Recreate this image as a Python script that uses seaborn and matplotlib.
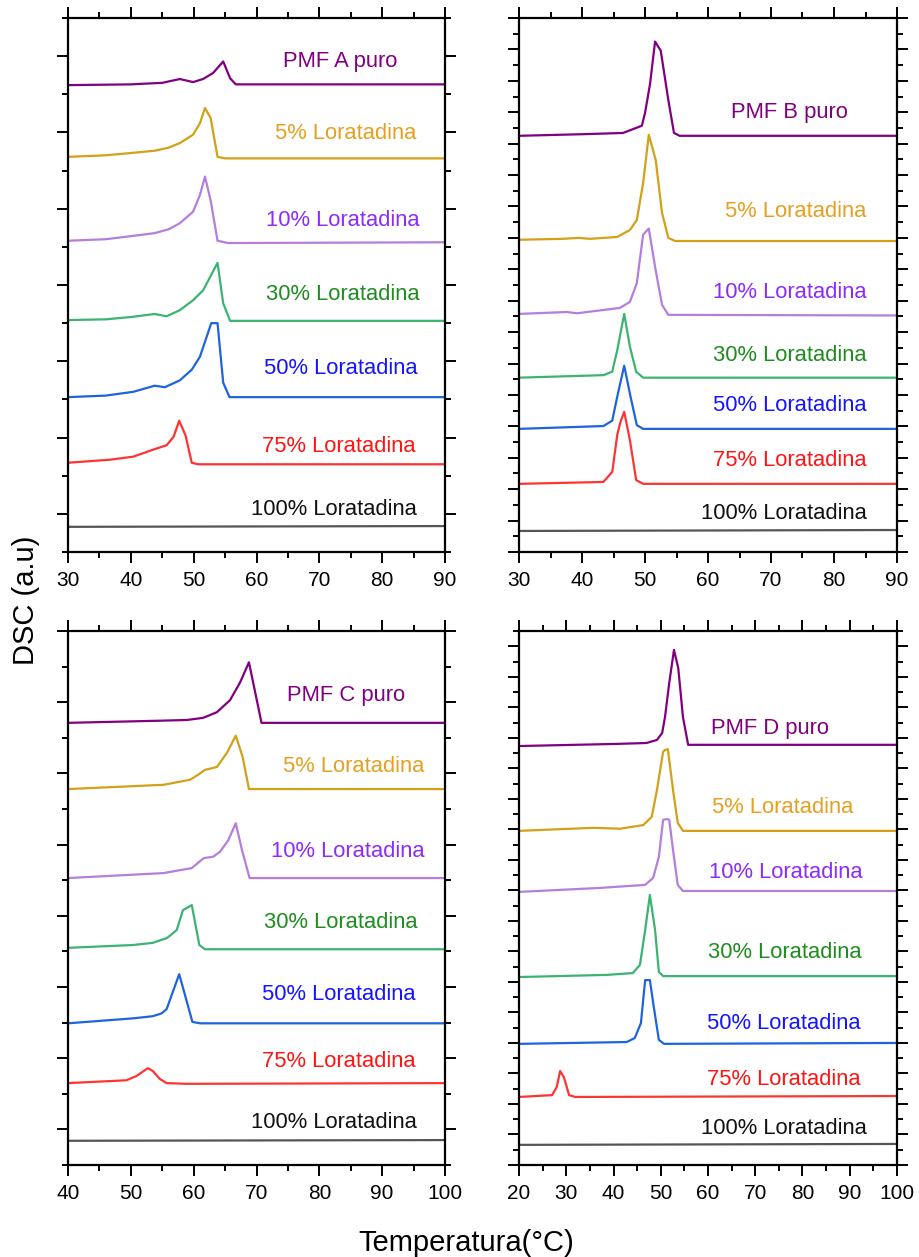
import matplotlib
matplotlib.use("Agg")
import matplotlib.pyplot as plt
import seaborn as sns
import pandas as pd
from matplotlib.ticker import MultipleLocator, FixedLocator

sns.set_theme(style="white")
plt.rcParams['font.family'] = ['Liberation Sans', 'DejaVu Sans']
plt.rcParams['text.color'] = 'black'
plt.rcParams['xtick.color'] = 'black'
plt.rcParams['ytick.color'] = 'black'
plt.rcParams['axes.labelcolor'] = 'black'

# ---------------- data ----------------
labels_A = ["PMF A puro", "5% Loratadina", "10% Loratadina", "30% Loratadina",
            "50% Loratadina", "75% Loratadina", "100% Loratadina"]
labels_B = ["PMF B puro"] + labels_A[1:]
labels_C = ["PMF C puro"] + labels_A[1:]
labels_D = ["PMF D puro"] + labels_A[1:]

# Panel A
A0_T = [30, 40, 45, 47.8, 49.9, 51.5, 53.1, 54.7, 55.8, 56.7, 90]
A0_y = [6.12, 6.13, 6.15, 6.20, 6.16, 6.20, 6.28, 6.43, 6.21, 6.13, 6.13]
A1_T = [30, 36, 40, 43.8, 46, 47.8, 49.9, 51.0, 51.8, 52.7, 53.8, 55, 90]
A1_y = [5.18, 5.20, 5.23, 5.26, 5.30, 5.36, 5.47, 5.62, 5.82, 5.69, 5.18, 5.16, 5.16]
A2_T = [30, 36, 40, 43.8, 46, 47.8, 49.9, 51.0, 51.8, 52.7, 53.8, 55.5, 90]
A2_y = [4.08, 4.10, 4.14, 4.18, 4.23, 4.31, 4.46, 4.68, 4.92, 4.61, 4.08, 4.05, 4.06]
A3_T = [30, 36, 40, 43.8, 45.7, 47.8, 49.9, 51.5, 53.8, 54.7, 55.8, 90]
A3_y = [3.04, 3.05, 3.08, 3.12, 3.09, 3.17, 3.30, 3.43, 3.79, 3.26, 3.03, 3.03]
A4_T = [30, 36, 40.4, 43.8, 45.4, 47.8, 49.7, 51.0, 52.8, 53.8, 54.7, 55.7, 90]
A4_y = [2.03, 2.05, 2.10, 2.18, 2.16, 2.25, 2.39, 2.56, 3.00, 3.00, 2.22, 2.03, 2.03]
A5_T = [30, 36.7, 40.4, 43.5, 45.7, 46.8, 47.7, 48.7, 49.7, 50.7, 90]
A5_y = [1.17, 1.21, 1.25, 1.34, 1.40, 1.51, 1.72, 1.53, 1.17, 1.15, 1.15]
A6_T = [30, 90]
A6_y = [0.33, 0.34]

# Panel B
B0_T = [30, 40, 46.5, 49.5, 50.0, 50.8, 51.6, 52.5, 53.7, 54.6, 55.5, 90]
B0_y = [13.25, 13.30, 13.34, 13.57, 13.97, 14.9, 16.25, 15.96, 14.39, 13.34, 13.25, 13.25]
B1_T = [30, 37, 39.4, 41.3, 45.6, 47.6, 48.7, 49.7, 50.6, 51.7, 52.7, 53.7, 54.8, 90]
B1_y = [9.94, 9.97, 10.0, 9.97, 10.03, 10.25, 10.57, 11.74, 13.28, 12.48, 10.8, 10.0, 9.9, 9.9]
B2_T = [30, 37.6, 39.2, 46.0, 47.6, 48.7, 49.7, 50.6, 51.6, 52.7, 53.7, 90]
B2_y = [7.58, 7.64, 7.60, 7.77, 7.96, 8.56, 10.1, 10.3, 9.08, 7.87, 7.55, 7.53]
B3_T = [30, 43.4, 44.8, 45.6, 46.7, 47.6, 48.6, 49.7, 90]
B3_y = [5.55, 5.63, 5.74, 6.43, 7.58, 6.54, 5.74, 5.55, 5.55]
B4_T = [30, 43.4, 44.8, 45.6, 46.7, 47.7, 48.7, 49.7, 90]
B4_y = [3.92, 4.01, 4.18, 4.95, 5.93, 4.95, 4.04, 3.92, 3.92]
B5_T = [30, 43.4, 44.8, 45.6, 46.1, 46.7, 47.6, 48.6, 49.7, 90]
B5_y = [2.17, 2.23, 2.55, 3.73, 4.14, 4.46, 3.57, 2.29, 2.17, 2.17]
B6_T = [30, 90]
B6_y = [0.67, 0.70]

# Panel C
C0_T = [40, 54.6, 58.9, 61.5, 63.7, 65.8, 67.4, 68.8, 70.8, 100]
C0_y = [6.21, 6.24, 6.25, 6.28, 6.36, 6.53, 6.78, 7.06, 6.21, 6.21]
C1_T = [40, 55.2, 59.4, 60.7, 61.8, 63.7, 65.3, 66.7, 67.8, 68.8, 100]
C1_y = [5.28, 5.34, 5.41, 5.48, 5.55, 5.59, 5.79, 6.03, 5.73, 5.28, 5.28]
C2_T = [40, 55.2, 59.7, 61.6, 63.1, 64.2, 65.5, 66.7, 67.7, 68.9, 100]
C2_y = [4.03, 4.10, 4.17, 4.31, 4.33, 4.40, 4.56, 4.80, 4.42, 4.03, 4.03]
C3_T = [40, 50.4, 53.5, 55.8, 57.3, 58.3, 59.7, 60.9, 61.8, 100]
C3_y = [3.05, 3.09, 3.12, 3.19, 3.30, 3.58, 3.65, 3.09, 3.03, 3.03]
C4_T = [40, 50.4, 53.5, 54.9, 55.7, 57.7, 59.8, 61.0, 100]
C4_y = [1.99, 2.06, 2.09, 2.13, 2.19, 2.68, 2.01, 1.99, 1.99]
C5_T = [40, 49.3, 50.9, 52.7, 53.5, 54.6, 55.7, 58.9, 100]
C5_y = [1.15, 1.19, 1.25, 1.36, 1.32, 1.21, 1.15, 1.14, 1.15]
C6_T = [40, 100]
C6_y = [0.34, 0.35]

# Panel D
D0_T = [20, 40.7, 47.0, 49.2, 50.3, 50.9, 51.8, 52.8, 53.7, 54.7, 55.8, 100]
D0_y = [13.73, 13.80, 13.83, 13.93, 14.16, 14.68, 15.80, 16.88, 16.29, 14.68, 13.77, 13.77]
D1_T = [20, 35.7, 41.4, 46.3, 48.1, 49.2, 50.5, 50.9, 51.5, 52.6, 53.6, 54.7, 100]
D1_y = [10.95, 11.05, 11.02, 11.14, 11.41, 12.29, 13.54, 13.60, 13.63, 12.29, 11.21, 10.95, 10.95]
D2_T = [20, 37.1, 46.7, 48.4, 49.6, 50.5, 51.3, 51.8, 52.6, 53.6, 54.7, 100]
D2_y = [8.95, 9.08, 9.18, 9.41, 10.1, 11.31, 11.34, 11.31, 10.32, 9.18, 8.98, 8.98]
D3_T = [20, 38.6, 44.1, 45.6, 46.7, 47.7, 48.8, 49.6, 50.5, 100]
D3_y = [6.16, 6.23, 6.29, 6.56, 7.70, 8.85, 7.70, 6.33, 6.19, 6.19]
D4_T = [20, 42.8, 44.5, 45.8, 46.7, 47.7, 48.4, 49.6, 50.7, 100]
D4_y = [3.97, 4.03, 4.16, 4.65, 6.06, 6.06, 5.31, 4.10, 3.97, 4.00]
D5_T = [20, 27.0, 28.0, 28.7, 29.5, 30.6, 31.9, 100]
D5_y = [2.23, 2.29, 2.56, 3.08, 2.88, 2.29, 2.23, 2.26]
D6_T = [20, 100]
D6_y = [0.66, 0.69]

# ---------------- style ----------------
line_colors = ["#800080", "#D4A017", "#B57EDC", "#3CB371", "#1E64DC", "#FF3333", "#555555"]
text_colors = ["#800080", "#E6A020", "#8B2BFF", "#1E8C1E", "#1414FF", "#FF1414", "#111111"]

panels = [
    dict(curves=[(A0_T, A0_y), (A1_T, A1_y), (A2_T, A2_y), (A3_T, A3_y), (A4_T, A4_y), (A5_T, A5_y), (A6_T, A6_y)],
         labels=labels_A, xlim=(30, 90), ylim=(0, 7),
         ymaj=[0.5 + i for i in range(7)], ymin=[float(i) for i in range(8)],
         lab_x=[82.4, 85.5, 85.9, 85.9, 85.7, 85.4, 85.5],
         lab_y=[6.43, 5.48, 4.34, 3.37, 2.40, 1.38, 0.56],
         rect=[68 / 919, 1 - 552 / 1257, 377 / 919, 534 / 1257]),
    dict(curves=[(B0_T, B0_y), (B1_T, B1_y), (B2_T, B2_y), (B3_T, B3_y), (B4_T, B4_y), (B5_T, B5_y), (B6_T, B6_y)],
         labels=labels_B, xlim=(30, 90), ylim=(0, 17),
         ymaj=[float(i) for i in range(18)], ymin=[i + 0.5 for i in range(17)],
         lab_x=[82.2, 85.1, 85.2, 85.1, 85.2, 85.2, 85.2],
         lab_y=[13.98, 10.83, 8.25, 6.27, 4.65, 2.90, 1.24],
         rect=[519 / 919, 1 - 552 / 1257, 378 / 919, 534 / 1257]),
    dict(curves=[(C0_T, C0_y), (C1_T, C1_y), (C2_T, C2_y), (C3_T, C3_y), (C4_T, C4_y), (C5_T, C5_y), (C6_T, C6_y)],
         labels=labels_C, xlim=(40, 100), ylim=(0, 7.5),
         ymaj=[0.5 + i for i in range(8)], ymin=[float(i) for i in range(8)],
         lab_x=[93.6, 96.7, 96.8, 95.7, 95.4, 95.4, 95.5],
         lab_y=[6.60, 5.59, 4.41, 3.41, 2.39, 1.46, 0.60],
         rect=[68 / 919, 1 - 1165 / 1257, 377 / 919, 534 / 1257]),
    dict(curves=[(D0_T, D0_y), (D1_T, D1_y), (D2_T, D2_y), (D3_T, D3_y), (D4_T, D4_y), (D5_T, D5_y), (D6_T, D6_y)],
         labels=labels_D, xlim=(20, 100), ylim=(0, 17.5),
         ymaj=[float(i) for i in range(18)], ymin=[i + 0.5 for i in range(18)],
         lab_x=[85.6, 90.7, 92.8, 92.6, 92.2, 92.2, 93.6],
         lab_y=[14.32, 11.70, 9.57, 6.95, 4.65, 2.79, 1.21],
         rect=[519 / 919, 1 - 1165 / 1257, 378 / 919, 534 / 1257]),
]

fig = plt.figure(figsize=(9.19, 12.57), dpi=100)

for p in panels:
    ax = fig.add_axes(p["rect"])
    for i, (T, y) in enumerate(p["curves"]):
        df = pd.DataFrame({"T": T, "y": y})
        sns.lineplot(data=df, x="T", y="y", ax=ax, sort=False, color=line_colors[i],
                     linewidth=1.6, estimator=None)
        ax.text(p["lab_x"][i], p["lab_y"][i], p["labels"][i], ha="right", va="center",
                color=text_colors[i], fontsize=15.8)
    ax.set_xlim(*p["xlim"])
    ax.set_ylim(*p["ylim"])
    ax.set_xlabel("")
    ax.set_ylabel("")
    ax.xaxis.set_major_locator(MultipleLocator(10))
    ax.xaxis.set_minor_locator(MultipleLocator(5))
    ax.yaxis.set_major_locator(FixedLocator(p["ymaj"]))
    ax.yaxis.set_minor_locator(FixedLocator(p["ymin"]))
    ax.tick_params(which="both", direction="out", top=True, right=True, bottom=True, left=True,
                   labelleft=False, labelbottom=True, labelsize=15, color="black",
                   labelcolor="black", width=1.4, pad=6)
    ax.tick_params(which="major", length=8)
    ax.tick_params(which="minor", length=4)
    for s in ax.spines.values():
        s.set_color("black")
        s.set_linewidth(1.6)
    ax.grid(False)

fig.text(26 / 919, 1 - 600 / 1257, "DSC (a.u)", rotation=90, ha="center", va="center",
         fontsize=21, color="black")
fig.text(466 / 919, 1 - 1243 / 1257, "Temperatura(°C)", ha="center", va="center",
         fontsize=21, color="black")

fig.savefig("out.png", dpi=100)
